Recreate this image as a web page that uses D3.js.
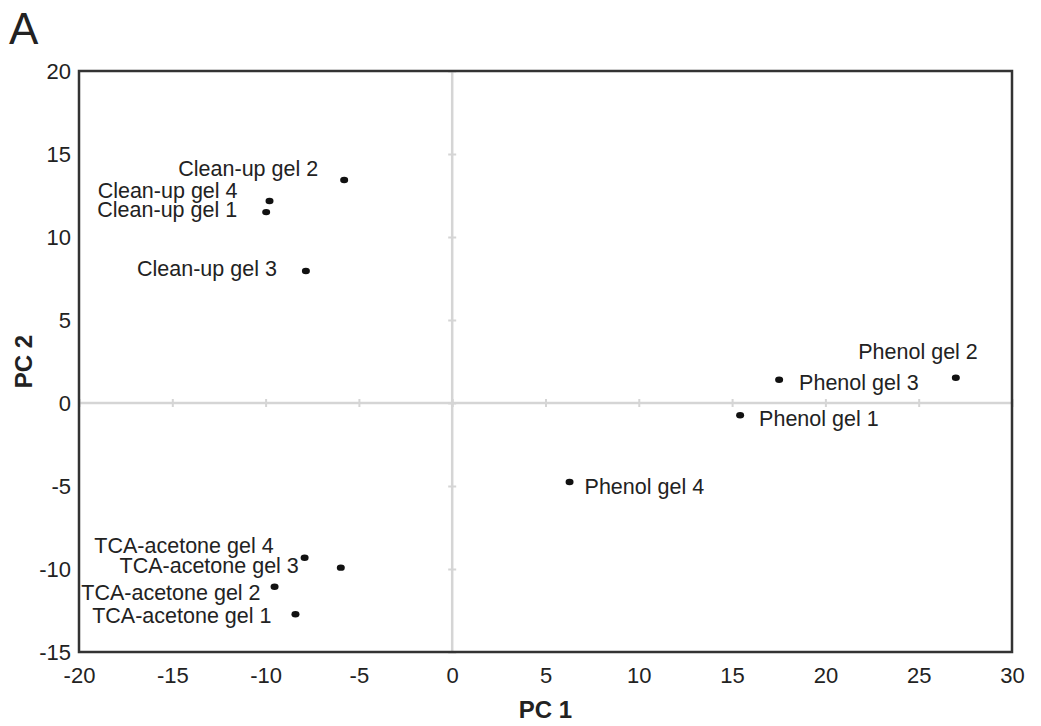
<!DOCTYPE html>
<html>
<head>
<meta charset="utf-8">
<script src="https://cdn.jsdelivr.net/npm/d3@7"></script>
<style>
  body { margin: 0; background: #fff; }
  svg { display: block; font-family: "Liberation Sans", Arial, sans-serif; }
</style>
</head>
<body>
<div id="chart"></div>
<script>
// sample names and PCA scores
const samples = [
  "Clean-up gel 1", "Clean-up gel 2", "Clean-up gel 3", "Clean-up gel 4",
  "TCA-acetone gel 1", "TCA-acetone gel 2", "TCA-acetone gel 3", "TCA-acetone gel 4",
  "Phenol gel 1", "Phenol gel 2", "Phenol gel 3", "Phenol gel 4"
];
const pc1 = [-9.97, -5.79, -7.84, -9.79, -8.4, -9.52, -5.97, -7.91, 15.43, 26.99, 17.52, 6.29];
const pc2 = [11.5, 13.43, 7.95, 12.17, -12.73, -11.07, -9.92, -9.32, -0.74, 1.52, 1.4, -4.76];

const xTicks = [-20, -15, -10, -5, 0, 5, 10, 15, 20, 25, 30];
const yTicks = [-15, -10, -5, 0, 5, 10, 15, 20];

// label placement relative to each point (anchor, dx, dy in px)
const labelPos = {
  "Clean-up gel 1": ["end", -29, 5],
  "Clean-up gel 2": ["end", -26, -4],
  "Clean-up gel 3": ["end", -29, 5],
  "Clean-up gel 4": ["end", -32, -3],
  "TCA-acetone gel 1": ["end", -24, 9],
  "TCA-acetone gel 2": ["end", -14, 13],
  "TCA-acetone gel 3": ["end", -42, 5],
  "TCA-acetone gel 4": ["end", -31, -5],
  "Phenol gel 1": ["start", 19, 11],
  "Phenol gel 2": ["end", 22, -19],
  "Phenol gel 3": ["start", 20, 10],
  "Phenol gel 4": ["start", 15, 12]
};

const W = 1041, H = 726;
const margin = { top: 71, right: 29, bottom: 74, left: 79 };
const textColor = "#222";

const svg = d3.select("#chart").append("svg")
  .attr("width", W)
  .attr("height", H);

const x = d3.scaleLinear().domain([-20, 30]).range([margin.left, W - margin.right]);
const y = d3.scaleLinear().domain([-15, 20]).range([H - margin.bottom, margin.top]);

// panel letter
svg.append("text")
  .attr("x", 9)
  .attr("y", 44)
  .attr("font-size", 44)
  .attr("fill", textColor)
  .text("A");

// zero lines with small ticks
const zeroColor = "#d5d5d5";
svg.append("line")
  .attr("x1", x(-20)).attr("x2", x(30))
  .attr("y1", y(0)).attr("y2", y(0))
  .attr("stroke", zeroColor).attr("stroke-width", 2.5);
svg.append("line")
  .attr("x1", x(0)).attr("x2", x(0))
  .attr("y1", y(20)).attr("y2", y(-15))
  .attr("stroke", zeroColor).attr("stroke-width", 2.5);

const xZero = svg.append("g")
  .attr("transform", `translate(0,${y(0) - 4})`)
  .call(d3.axisBottom(x).tickValues(xTicks).tickSize(8).tickFormat(""));
const yZero = svg.append("g")
  .attr("transform", `translate(${x(0) - 4},0)`)
  .call(d3.axisRight(y).tickValues(yTicks).tickSize(8).tickFormat(""));
[xZero, yZero].forEach(g => {
  g.select(".domain").remove();
  g.selectAll(".tick line").attr("stroke", zeroColor).attr("stroke-width", 2);
});

// tick labels (plain hyphen minus, as in the figure)
const fmt = d => String(d);
const xAxis = svg.append("g")
  .attr("transform", `translate(0,${y(-15)})`)
  .call(d3.axisBottom(x).tickValues(xTicks).tickSize(0).tickPadding(12).tickFormat(fmt));
const yAxis = svg.append("g")
  .attr("transform", `translate(${x(-20)},0)`)
  .call(d3.axisLeft(y).tickValues(yTicks).tickSize(0).tickPadding(8).tickFormat(fmt));
[xAxis, yAxis].forEach(g => {
  g.select(".domain").remove();
  g.selectAll(".tick text")
    .attr("font-size", 22)
    .attr("fill", textColor)
    .attr("font-family", "Liberation Sans, Arial, sans-serif");
});
xAxis.selectAll(".tick text").attr("dy", "0.85em");

// frame
svg.append("rect")
  .attr("x", x(-20))
  .attr("y", y(20))
  .attr("width", x(30) - x(-20))
  .attr("height", y(-15) - y(20))
  .attr("fill", "none")
  .attr("stroke", "#333")
  .attr("stroke-width", 2.5);

// axis titles
svg.append("text")
  .attr("x", (x(-20) + x(30)) / 2)
  .attr("y", 718)
  .attr("text-anchor", "middle")
  .attr("font-size", 24)
  .attr("font-weight", "bold")
  .attr("fill", textColor)
  .text("PC 1");

svg.append("text")
  .attr("transform", `translate(32,${(y(20) + y(-15)) / 2}) rotate(-90)`)
  .attr("text-anchor", "middle")
  .attr("font-size", 24)
  .attr("font-weight", "bold")
  .attr("fill", textColor)
  .text("PC 2");

// points
const pts = samples.map((s, i) => ({ name: s, pc1: pc1[i], pc2: pc2[i] }));

svg.selectAll(".dot")
  .data(pts)
  .enter()
  .append("ellipse")
  .attr("class", "dot")
  .attr("cx", d => x(d.pc1))
  .attr("cy", d => y(d.pc2))
  .attr("rx", 4)
  .attr("ry", 3.2)
  .attr("fill", "#111");

svg.selectAll(".lbl")
  .data(pts)
  .enter()
  .append("text")
  .attr("class", "lbl")
  .attr("x", d => x(d.pc1) + labelPos[d.name][1])
  .attr("y", d => y(d.pc2) + labelPos[d.name][2])
  .attr("text-anchor", d => labelPos[d.name][0])
  .attr("font-size", 21.5)
  .attr("fill", textColor)
  .text(d => d.name);
</script>
</body>
</html>
